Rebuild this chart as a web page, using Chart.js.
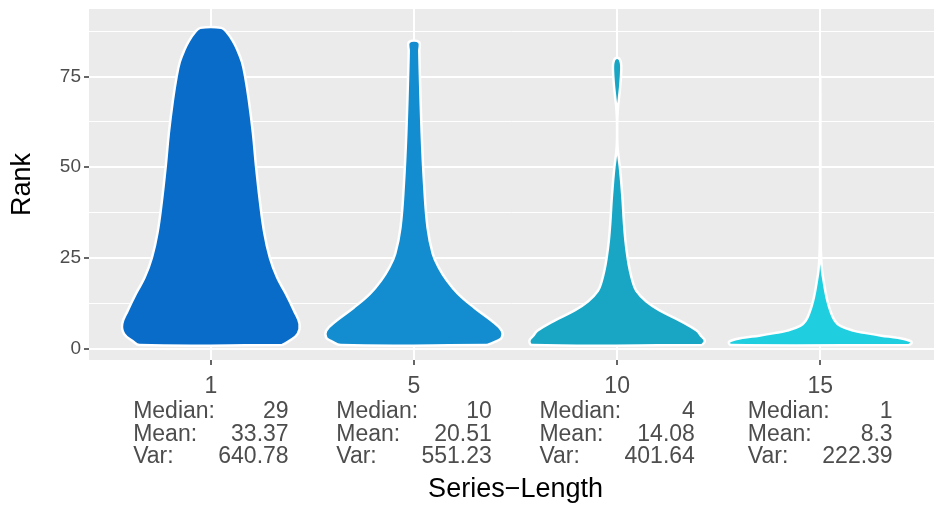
<!DOCTYPE html>
<html>
<head>
<meta charset="utf-8">
<script src="https://cdn.jsdelivr.net/npm/chart.js@4"></script>
<style>
  html, body { margin: 0; padding: 0; background: #ffffff; }
  canvas { display: block; }
</style>
</head>
<body>
<canvas id="chart" width="935" height="510"></canvas>
<script>
// Groups on the x axis and their summary statistics
const categories = ['1', '5', '10', '15'];
const medians = [29, 10, 4, 1];
const means = [33.37, 20.51, 14.08, 8.3];
const variances = [640.78, 551.23, 401.64, 222.39];
const yMajorTicks = [0, 25, 50, 75];

// Density profile of each violin: rank levels and relative half-width (1 = widest)
const ranksLen1 = [1, 2.2, 4.1, 6.9, 10.5, 15.2, 19.6, 25.1, 31.8, 40.9, 50, 59.4, 68.5, 74.9, 79, 82.3, 85, 87, 88.4];
const widthsLen1 = [0.78, 0.86, 0.95, 0.97, 0.91, 0.82, 0.725, 0.645, 0.585, 0.535, 0.495, 0.46, 0.415, 0.375, 0.34, 0.29, 0.235, 0.18, 0.115];

const ranksLen5 = [1, 2.2, 3, 5, 7.7, 11.3, 15.2, 18.8, 22.4, 26.2, 33.4, 45.6, 59.4, 77.6, 82, 84.5];
const widthsLen5 = [0.8, 0.91, 0.96, 0.96, 0.85, 0.66, 0.48, 0.36, 0.27, 0.205, 0.148, 0.11, 0.084, 0.062, 0.058, 0.055];

const ranksLen10 = [1, 2.2, 3.5, 5, 7.7, 10.5, 13, 16, 18.5, 21.5, 25, 30, 35, 41, 45, 48, 50, 52, 54.7, 57, 60, 63, 66.6, 69, 72, 75, 77.6, 79, 80];
const widthsLen10 = [0.93, 0.96, 0.92, 0.87, 0.69, 0.47, 0.32, 0.21, 0.17, 0.14, 0.115, 0.09, 0.074, 0.06, 0.048, 0.038, 0.03, 0.02, 0.008, 0.002, 0.001, 0.002, 0.01, 0.02, 0.033, 0.042, 0.046, 0.04, 0.02];

const ranksLen15 = [1, 1.6, 2.2, 3, 3.6, 4.3, 5, 6.3, 7.7, 10.5, 13, 16, 19, 21.5, 25, 30, 40, 55, 70, 75.4];
const widthsLen15 = [0.97, 1.0, 0.98, 0.85, 0.67, 0.5, 0.36, 0.22, 0.16, 0.11, 0.08, 0.055, 0.035, 0.02, 0.01, 0.004, 0.002, 0.002, 0.001, 0];

const violinRanks = [ranksLen1, ranksLen5, ranksLen10, ranksLen15];
const violinWidths = [widthsLen1, widthsLen5, widthsLen10, widthsLen15];
const fillColors = ['#086cc8', '#138dcf', '#19a6c5', '#1fcfe0'];

const VIOLIN_SPAN = 0.9;          // full width of the widest violin, in category units
const X_RANGE = [0.4, 4.6];       // panel range in category units
const FONT = '"Liberation Sans", Arial, Helvetica, sans-serif';
const TEXT_GREY = '#4d4d4d';

// Closed outline: up the right side, down the left side, back to the start
function violinOutline(position, ranks, widths) {
  const half = VIOLIN_SPAN / 2;
  const right = ranks.map((r, i) => ({ x: position + widths[i] * half, y: r }));
  const left = ranks.map((r, i) => ({ x: position - widths[i] * half, y: r })).reverse();
  return right.concat(left, [right[0]]);
}

const datasets = categories.map((name, i) => ({
  label: name,
  data: violinOutline(i + 1, violinRanks[i], violinWidths[i]),
  showLine: true,
  fill: 'shape',
  backgroundColor: fillColors[i],
  borderColor: '#ffffff',
  borderWidth: 2.5,
  pointRadius: 0,
  tension: 0.4
}));

// Grey panel behind the plot area
const panelBackground = {
  id: 'panelBackground',
  beforeDraw(chart) {
    const { ctx, chartArea: a } = chart;
    ctx.save();
    ctx.fillStyle = '#ebebeb';
    ctx.fillRect(a.left, a.top, a.right - a.left, a.bottom - a.top);
    ctx.restore();
  }
};

// Median / mean / variance block under each category label, plus the x axis title
const statsBlock = {
  id: 'statsBlock',
  afterDraw(chart) {
    const { ctx, chartArea: a, scales: { x } } = chart;
    ctx.save();
    ctx.font = '23px ' + FONT;
    ctx.fillStyle = TEXT_GREY;
    ctx.textBaseline = 'middle';
    const gap = 34;
    categories.forEach((name, i) => {
      const cx = x.getPixelForValue(i + 1);
      const rows = [
        ['Median:', String(medians[i])],
        ['Mean:', String(means[i])],
        ['Var:', String(variances[i])]
      ];
      const blockWidth = gap + Math.max(...rows.map(r => ctx.measureText(r[0]).width + ctx.measureText(r[1]).width));
      const left = cx - blockWidth / 2;
      const right = cx + blockWidth / 2;
      rows.forEach((row, j) => {
        const y = a.bottom + 52 + j * 22.5;
        ctx.textAlign = 'left';
        ctx.fillText(row[0], left, y);
        ctx.textAlign = 'right';
        ctx.fillText(row[1], right, y);
      });
    });
    // axis title centred on the full panel range
    ctx.font = '27px ' + FONT;
    ctx.fillStyle = '#000000';
    ctx.textAlign = 'center';
    ctx.fillText('Series\u2212Length', x.getPixelForValue((X_RANGE[0] + X_RANGE[1]) / 2), a.bottom + 130);
    ctx.restore();
  }
};

new Chart(document.getElementById('chart'), {
  type: 'scatter',
  data: { datasets },
  plugins: [panelBackground, statsBlock],
  options: {
    responsive: false,
    animation: false,
    layout: { padding: { top: 9, right: 1, left: 0, bottom: 0 } },
    plugins: { legend: { display: false }, tooltip: { enabled: false } },
    scales: {
      x: {
        type: 'linear',
        min: X_RANGE[0],
        max: 4.56,
        afterBuildTicks: s => { s.ticks = categories.map((c, i) => ({ value: i + 1 })); },
        afterFit: s => { s.height = 150; s.paddingLeft = 0; s.paddingRight = 0; },
        border: { display: false },
        grid: { color: '#ffffff', lineWidth: 2, tickColor: '#333333', tickLength: 5, tickWidth: 1.5 },
        ticks: {
          autoSkip: false,
          maxRotation: 0,
          padding: 8,
          color: TEXT_GREY,
          font: { family: FONT, size: 23 },
          callback: v => categories[v - 1]
        }
      },
      y: {
        min: -3.1,
        max: 93.6,
        afterFit: s => { s.width = 89; s.paddingTop = 0; s.paddingBottom = 0; },
        border: { display: false },
        grid: {
          color: '#ffffff',
          lineWidth: c => (c.tick && yMajorTicks.includes(c.tick.value) ? 2 : 1),
          tickColor: c => (c.tick && yMajorTicks.includes(c.tick.value) ? '#333333' : 'rgba(0,0,0,0)'),
          tickWidth: 1.5,
          tickLength: 5
        },
        ticks: {
          stepSize: 12.5,
          includeBounds: false,
          autoSkip: false,
          padding: 3,
          color: TEXT_GREY,
          font: { family: FONT, size: 19 },
          callback: v => (yMajorTicks.includes(v) ? String(v) : '')
        },
        title: {
          display: true,
          text: 'Rank',
          color: '#000000',
          font: { family: FONT, size: 27 },
          padding: 6
        }
      }
    }
  }
});
</script>
</body>
</html>
